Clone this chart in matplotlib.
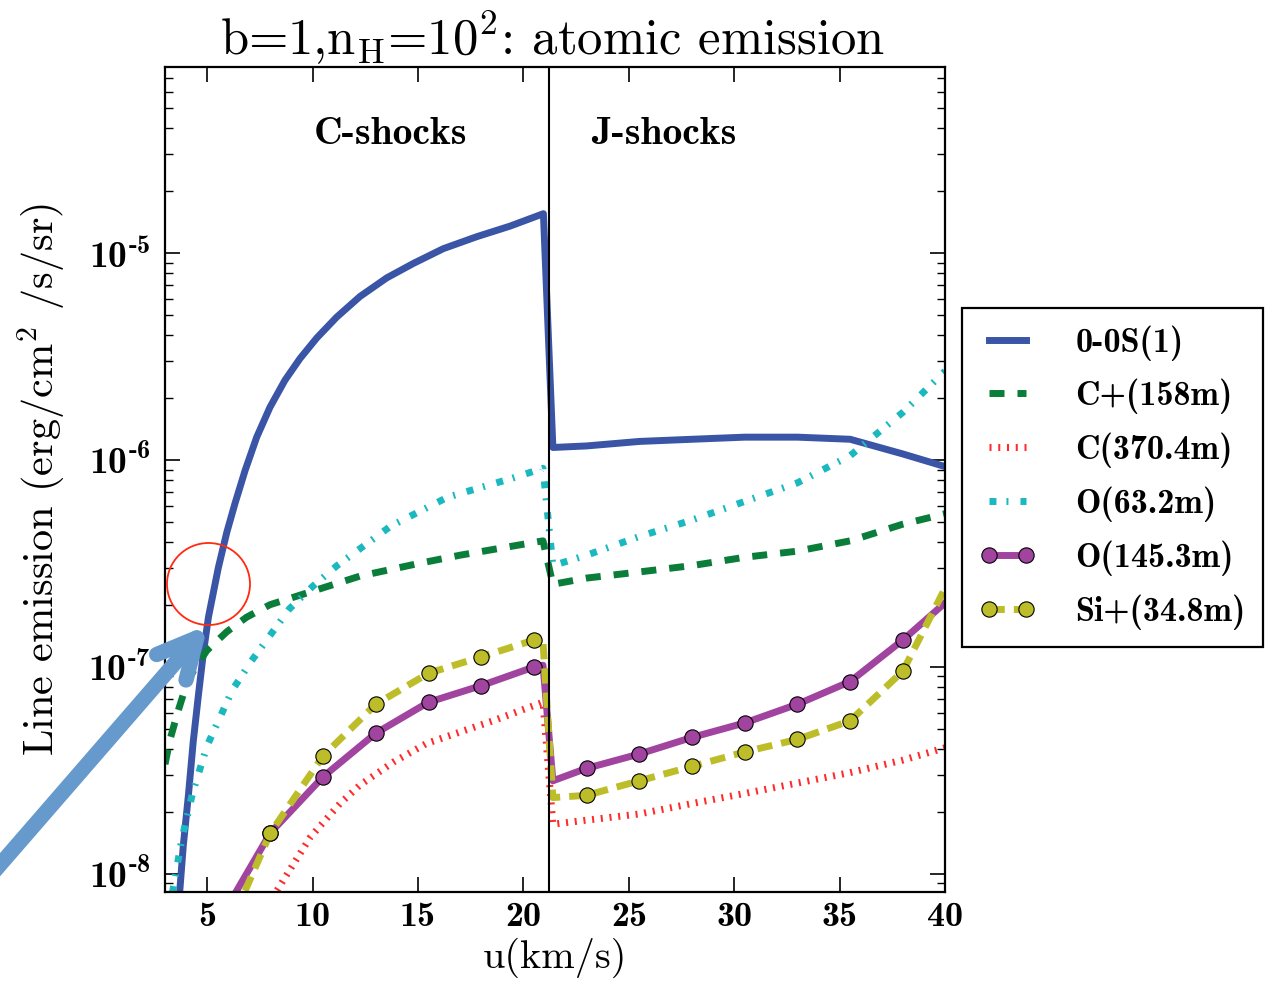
import matplotlib
matplotlib.use("Agg")
import matplotlib.pyplot as plt
from matplotlib.patches import Ellipse, FancyArrowPatch
from matplotlib.font_manager import FontProperties

plt.rcParams['mathtext.fontset'] = 'custom'
plt.rcParams['mathtext.rm'] = 'cmb10'
plt.rcParams['mathtext.bf'] = 'cmb10'
plt.rcParams['mathtext.it'] = 'cmb10'
plt.rcParams['mathtext.sf'] = 'cmr10'

# ---------------- data ----------------
# 0-0S(1)
u_h2 = [3.71, 3.87, 4.11, 4.34, 4.58, 4.82, 5.06, 5.53, 5.93, 6.32, 6.80, 7.35, 7.98, 8.69,
        9.40, 10.2, 11.14, 12.25, 13.52, 14.78, 16.2, 17.79, 19.37, 20.95,
        21.4, 23.0, 25.5, 28.0, 30.5, 33.0, 35.5, 38.0, 40.0]
I_h2 = [8.51e-9, 1.38e-8, 2.40e-8, 4.37e-8, 7.24e-8, 1.17e-7, 1.74e-7, 3.02e-7, 4.47e-7, 6.17e-7,
        8.91e-7, 1.29e-6, 1.80e-6, 2.43e-6, 3.09e-6, 3.89e-6, 4.90e-6, 6.17e-6, 7.59e-6, 8.91e-6,
        1.05e-5, 1.20e-5, 1.35e-5, 1.55e-5,
        1.15e-6, 1.17e-6, 1.23e-6, 1.26e-6, 1.29e-6, 1.29e-6, 1.26e-6, 1.07e-6, 9.3e-7]
# C+(158m)
u_cp = [3.0, 3.24, 3.6, 4.03, 4.34, 4.98, 5.93, 6.87, 7.98, 9.5, 12.25, 15.0, 17.0, 20.93,
        21.4, 23.0, 25.5, 28.0, 30.5, 33.0, 35.5, 38.0, 40.0]
I_cp = [3.39e-8, 4.47e-8, 6.03e-8, 8.32e-8, 9.55e-8, 1.20e-7, 1.48e-7, 1.74e-7, 2.0e-7, 2.24e-7,
        2.75e-7, 3.16e-7, 3.47e-7, 4.07e-7,
        2.51e-7, 2.69e-7, 2.88e-7, 3.09e-7, 3.39e-7, 3.63e-7, 4.07e-7, 4.90e-7, 5.50e-7]
# C(370.4m)
u_c = [8.2, 8.3, 9.9, 11.3, 12.25, 13.83, 15.4, 18.56, 20.93,
       21.4, 23.0, 25.5, 28.0, 30.5, 33.0, 35.5, 38.0, 40.0]
I_c = [7.6e-9, 8.3e-9, 1.51e-8, 2.19e-8, 2.69e-8, 3.47e-8, 4.27e-8, 5.5e-8, 6.76e-8,
       1.74e-8, 1.82e-8, 1.95e-8, 2.19e-8, 2.45e-8, 2.75e-8, 3.09e-8, 3.55e-8, 4.07e-8]
# O(63.2m)
u_o63 = [3.35, 3.8, 4.33, 5.0, 6.2, 7.1, 8.9, 10.0, 11.16, 13.7, 16.4, 19.4, 20.93,
         21.4, 23.0, 25.5, 28.0, 30.5, 33.0, 35.5, 38.0, 40.0]
I_o63 = [8.1e-9, 1.48e-8, 2.51e-8, 4.17e-8, 7.76e-8, 1.07e-7, 1.91e-7, 2.45e-7, 3.09e-7, 4.79e-7,
         6.61e-7, 8.13e-7, 9.12e-7,
         3.09e-7, 3.47e-7, 4.27e-7, 5.13e-7, 6.31e-7, 7.76e-7, 1.05e-6, 1.70e-6, 2.69e-6]
# O(145.3m)
u_o145 = [6.4, 8.0, 10.5, 13.0, 15.5, 18.0, 20.5, 20.93,
          21.4, 23.0, 25.5, 28.0, 30.5, 33.0, 35.5, 38.0, 40.0]
I_o145 = [8.3e-9, 1.58e-8, 2.95e-8, 4.79e-8, 6.76e-8, 8.13e-8, 1.0e-7, 1.02e-7,
          2.82e-8, 3.24e-8, 3.80e-8, 4.57e-8, 5.37e-8, 6.61e-8, 8.51e-8, 1.35e-7, 2.04e-7]
# Si+(34.8m)
u_sip = [6.8, 8.0, 10.5, 13.0, 15.5, 18.0, 20.5, 20.93,
         21.4, 23.0, 25.5, 28.0, 30.5, 33.0, 35.5, 38.0, 40.0]
I_sip = [8.3e-9, 1.58e-8, 3.72e-8, 6.61e-8, 9.33e-8, 1.12e-7, 1.35e-7, 1.32e-7,
         2.34e-8, 2.40e-8, 2.82e-8, 3.31e-8, 3.89e-8, 4.47e-8, 5.50e-8, 9.55e-8, 2.40e-7]
marker_idx = [1, 2, 3, 4, 5, 6, 9, 10, 11, 12, 13, 14, 15]

labels = ['0-0S(1)', 'C+(158m)', 'C(370.4m)', 'O(63.2m)', 'O(145.3m)', 'Si+(34.8m)']
x_ticks = [5, 10, 15, 20, 25, 30, 35, 40]
y_ticks = [1e-8, 1e-7, 1e-6, 1e-5]
y_ticklabels = [r'$10^{\text{-8}}$', r'$10^{\text{-7}}$', r'$10^{\text{-6}}$', r'$10^{\text{-5}}$']
shock_boundary = 21.2

# ---------------- figure ----------------
W, H = 1269, 989
fig = plt.figure(figsize=(W / 100, H / 100), dpi=100)
ax = fig.add_axes([165 / W, 1 - 892 / H, (945 - 165) / W, (892 - 67) / H])
ax.set_yscale('log')

LW = 5.0
c_blue = '#3a55a5'
c_green = '#0b7d3a'
c_red = '#ff2a2a'
c_cyan = '#1cb8c0'
c_mag = '#a0449f'
c_yel = '#bdbd2a'

ax.plot(u_h2, I_h2, color=c_blue, lw=LW, label=labels[0])
ax.plot(u_cp, I_cp, color=c_green, lw=LW, ls=(0, (2.16, 1.87)), label=labels[1])
ax.plot(u_c, I_c, color=c_red, lw=LW, ls=(0, (0.29, 0.97)), label=labels[2])
ax.plot(u_o63, I_o63, color=c_cyan, lw=LW, ls=(0, (1.0, 1.44, 0.29, 1.73)), label=labels[3])
ax.plot(u_o145, I_o145, color=c_mag, lw=LW, marker='o', ms=11, mfc=c_mag, mec='k', mew=0.8,
        markevery=marker_idx, label=labels[4])
ax.plot(u_sip, I_sip, color=c_yel, lw=LW, ls=(0, (2.2, 1.3)), marker='o', ms=11, mfc=c_yel,
        mec='k', mew=0.8, markevery=marker_idx, label=labels[5])

ax.axvline(shock_boundary, color='k', lw=1.5)

ax.set_xlim(3, 40)
ax.set_ylim(10 ** -8.087, 10 ** -4.101)
ax.set_xticks(x_ticks)
ax.set_xticklabels([str(t) for t in x_ticks], fontproperties=FontProperties(family='cmb10', size=26))
ax.set_yticks(y_ticks)
ax.set_yticklabels(y_ticklabels, fontsize=27)
ax.tick_params(which='major', direction='in', length=11, width=1.2, top=True, right=True)
ax.tick_params(axis='x', pad=7)
ax.tick_params(axis='y', pad=10)
ax.tick_params(which='minor', direction='in', length=6, width=1.0, top=True, right=True)
for s in ax.spines.values():
    s.set_linewidth(1.6)

fig.text(391 / W, 1 - 135 / H, 'C-shocks', family='cmb10', size=28.5, ha='center', va='center')
fig.text(664 / W, 1 - 135 / H, 'J-shocks', family='cmb10', size=28.5, ha='center', va='center')

fig.text(553 / W, 1 - 38 / H, r'b=1,n$_\mathsf{H}$=10$^\mathsf{2}$: atomic emission', family='cmr10',
         size=36.5, ha='center', va='center')
fig.text(42 / W, 1 - 480 / H, r'Line emission (erg/cm$^\mathsf{2}$ /s/sr)', family='cmr10', size=30.5,
         rotation=90, ha='center', va='center')
fig.text(555 / W, 1 - 958 / H, 'u(km/s)', family='cmr10', size=29, ha='center', va='center')

leg = fig.legend(loc='upper left', bbox_to_anchor=(962 / W, 1 - 308 / H),
                 prop=FontProperties(family='cmb10', size=24.5), frameon=True, fancybox=False,
                 edgecolor='k', framealpha=1, handlelength=1.68, numpoints=2,
                 labelspacing=0.54, borderpad=0.5, handletextpad=1.15, borderaxespad=0)
leg.get_frame().set_linewidth(1.6)

# annotation: red circle and blue arrow
circ = Ellipse((208.5 / W, 1 - 584 / H), width=83 / W, height=82 / H, transform=fig.transFigure,
               fill=False, ec='#ff2a10', lw=1.3)
fig.add_artist(circ)
arrow = FancyArrowPatch((-15 / W, 1 - 882 / H), (208 / W, 1 - 625 / H), transform=fig.transFigure,
                        arrowstyle='->,head_length=1.0,head_width=0.5', mutation_scale=28,
                        lw=11, color='#6699cc', capstyle='round', joinstyle='round',
                        shrinkA=0, shrinkB=0)
fig.add_artist(arrow)

fig.savefig('out.png', dpi=100)
